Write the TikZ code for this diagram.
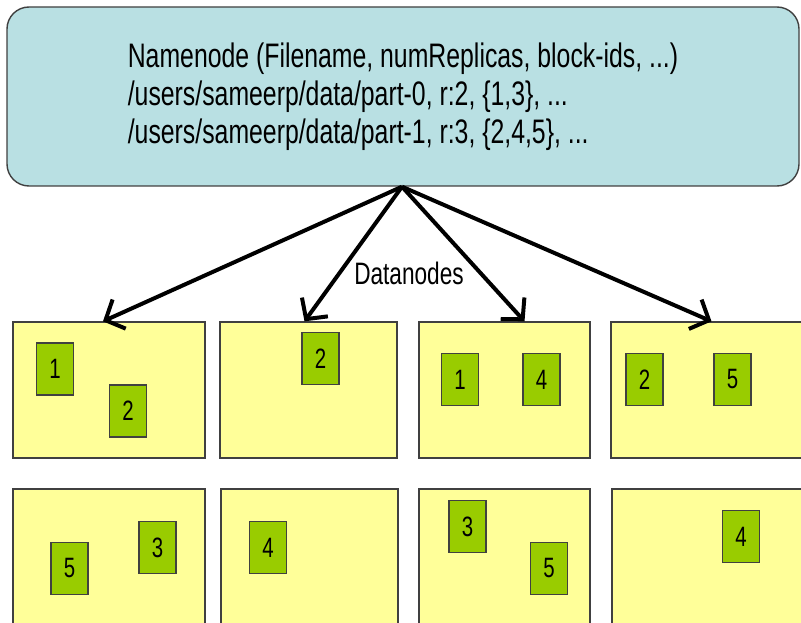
\documentclass[tikz,border=0pt]{standalone}
\usepackage{fontspec}
\setmainfont{Liberation Sans}[FakeStretch=0.73]
\usepackage{tikz}
\usetikzlibrary{shapes, arrows.meta, positioning}
\usetikzlibrary{calc}

\definecolor{namecyan}{HTML}{B9E0E3}
\definecolor{datayellow}{HTML}{FFFF99}
\definecolor{blockgreen}{HTML}{99CC00}

\begin{document}
\begin{tikzpicture}
  [
    x=1pt, y=-1pt,
    Name/.style={rectangle, rounded corners=22pt, draw=black!75, fill=namecyan, line width=1.4pt, minimum width=792pt, minimum height=179pt, align=left, font=\fontsize{34}{38}\selectfont, inner sep=0pt},
    Data/.style={rectangle, draw=black!75, fill=datayellow, line width=1.3pt, inner sep=0pt},
    Block/.style={rectangle, draw=black!75, fill=blockgreen, line width=1.2pt, minimum width=37pt, minimum height=52pt, inner sep=0pt, font=\fontsize{28}{28}\selectfont},
    Link/.style={-{Straight Barb[length=15pt, width=32pt]}, line width=4pt}
  ]
  \useasboundingbox (0,0) rectangle (801,623);
  \clip (0,0) rectangle (801,623);

  % Namenode
  \node[Name] (nn) at (403, 96.5) {Namenode (Filename, numReplicas, block-ids, ...)\\/users/sameerp/data/part-0, r:2, \{1,3\}, ...\\/users/sameerp/data/part-1, r:3, \{2,4,5\}, ...};

  % Datanodes, first row
  \node[Data, minimum width=192pt, minimum height=136pt] (d1) at (109, 390) {};
  \node[Data, minimum width=177pt, minimum height=136pt] (d2) at (308.5, 390) {};
  \node[Data, minimum width=171pt, minimum height=136pt] (d3) at (504.5, 390) {};
  \node[Data, minimum width=209pt, minimum height=136pt] (d4) at (715.5, 390) {};

  % Datanodes, second row
  \node[Data, minimum width=192pt, minimum height=161pt] (d5) at (109, 569.5) {};
  \node[Data, minimum width=177pt, minimum height=161pt] (d6) at (309.5, 569.5) {};
  \node[Data, minimum width=171pt, minimum height=161pt] (d7) at (504.5, 569.5) {};
  \node[Data, minimum width=209pt, minimum height=161pt] (d8) at (716.5, 569.5) {};

  % Blocks
  \node[Block] (b11) at (55, 369) {1};
  \node[Block] (b12) at (128, 411) {2};
  \node[Block] (b22) at (320.5, 358.5) {2};
  \node[Block] (b31) at (460, 379.5) {1};
  \node[Block] (b34) at (541.5, 379.5) {4};
  \node[Block] (b42) at (644.5, 379.5) {2};
  \node[Block] (b45) at (732.5, 379.5) {5};
  \node[Block] (b55) at (69.5, 568.5) {5};
  \node[Block] (b53) at (157.5, 547.5) {3};
  \node[Block] (b64) at (268, 547.5) {4};
  \node[Block] (b73) at (467.5, 526.5) {3};
  \node[Block] (b75) at (549, 568.5) {5};
  \node[Block] (b84) at (741, 536.5) {4};

  % Arrows
  \draw[Link] ([xshift=-1pt]nn.south) -- ([xshift=-6pt]d1.north);
  \draw[Link] ([xshift=-1pt]nn.south) -- ([xshift=-4pt]d2.north);
  \draw[Link] ([xshift=-1pt]nn.south) -- ([xshift=20pt]d3.north);
  \draw[Link] ([xshift=-1pt]nn.south) -- ([xshift=-4pt]d4.north);

  \node[font=\fontsize{31}{31}\selectfont] (dn) at (409, 273) {Datanodes};

\end{tikzpicture}
\end{document}
